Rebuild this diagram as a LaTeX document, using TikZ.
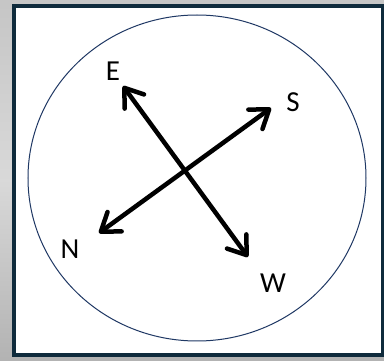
\documentclass[tikz,border=0pt]{standalone}
\usepackage{fontspec}
\setmainfont{Carlito}
\usetikzlibrary{arrows.meta}
\definecolor{framec}{HTML}{0F2B3C}
\definecolor{circc}{HTML}{1F3864}
\tikzset{
  dirarrow/.style={line width=4.5pt, line cap=round, <->, >={Straight Barb[length=17pt,width=24pt,line cap=round,line join=round]}},
  lbl/.style={font=\fontsize{29}{29}\selectfont, inner sep=0pt}
}
\begin{document}
\begin{tikzpicture}[x=1pt,y=-1pt]
\useasboundingbox (0,0) rectangle (384,361);
\shade[top color=gray!45, bottom color=gray!60, middle color=gray!30] (0,0) rectangle (384,361);
\fill[framec] (12,4) rectangle (384,357);
\fill[white] (16,8) rectangle (381,353);
\draw[circc, line width=1pt] (197,178) ellipse [x radius=169, y radius=163];
\coordinate (e) at (123,86);
\coordinate (w) at (248,257);
\coordinate (s) at (271,108);
\coordinate (n) at (99,233);
\draw[dirarrow] (e) -- (w);
\draw[dirarrow] (n) -- (s);
\node[lbl] (le) at (113,71) {E};
\node[lbl] (ls) at (293,102) {S};
\node[lbl] (ln) at (70,249) {N};
\node[lbl] (lw) at (273,283) {W};
\end{tikzpicture}
\end{document}
